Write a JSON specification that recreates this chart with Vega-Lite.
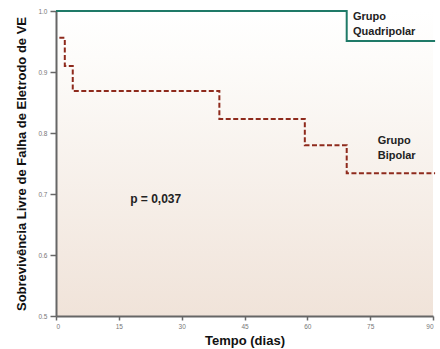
{
  "$schema": "https://vega.github.io/schema/vega-lite/v6.json",
  "width": 377,
  "height": 305,
  "autosize": {"type": "none"},
  "padding": {"left": 56, "top": 11, "right": 7, "bottom": 33},
  "background": "white",
  "config": {
    "view": {"stroke": null, "fill": {"gradient": "linear", "x1": 0, "y1": 0, "x2": 0, "y2": 1, "stops": [{"offset": 0, "color": "#ffffff"}, {"offset": 0.15, "color": "#fdfcfa"}, {"offset": 1, "color": "#f0e3d9"}]}},
    "font": "Liberation Sans",
    "axis": {"grid": false, "domainColor": "#666666", "domainWidth": 2, "tickColor": "#666666", "tickWidth": 1.5, "labelColor": "#777777", "labelFontSize": 6.5, "titleFontSize": 13, "titleFontWeight": "bold", "titleColor": "#111111"}
  },
  "datasets": {
    "curves": [
      {"grupo": "Quadripolar", "dias": 0, "s": 1.0},
      {"grupo": "Quadripolar", "dias": 69.4, "s": 0.951},
      {"grupo": "Quadripolar", "dias": 90.5, "s": 0.951},
      {"grupo": "Bipolar", "dias": 0.8, "s": 0.956},
      {"grupo": "Bipolar", "dias": 2.1, "s": 0.91},
      {"grupo": "Bipolar", "dias": 4.0, "s": 0.869},
      {"grupo": "Bipolar", "dias": 39.0, "s": 0.823},
      {"grupo": "Bipolar", "dias": 59.4, "s": 0.78},
      {"grupo": "Bipolar", "dias": 69.4, "s": 0.734},
      {"grupo": "Bipolar", "dias": 90.5, "s": 0.734}
    ],
    "labels": [
      {"dias": 70.9, "s": 0.99, "label": "Grupo", "size": 11},
      {"dias": 70.9, "s": 0.965, "label": "Quadripolar", "size": 11},
      {"dias": 76.8, "s": 0.787, "label": "Grupo", "size": 11},
      {"dias": 76.8, "s": 0.762, "label": "Bipolar", "size": 11},
      {"dias": 17.7, "s": 0.692, "label": "p = 0,037", "size": 12}
    ]
  },
  "layer": [
    {
      "data": {"name": "curves"},
      "transform": [{"filter": "datum.grupo == 'Quadripolar'"}],
      "mark": {"type": "line", "interpolate": "step-after", "color": "#1f7a68", "strokeWidth": 2, "clip": false},
      "encoding": {
        "x": {"field": "dias", "type": "quantitative", "scale": {"domain": [0, 90], "nice": false}, "axis": {"values": [0, 15, 30, 45, 60, 75, 90], "title": "Tempo (dias)", "tickSize": 4, "labelPadding": 3, "titlePadding": 5}},
        "y": {"field": "s", "type": "quantitative", "scale": {"domain": [0.5, 1.0], "nice": false, "zero": false}, "axis": {"values": [0.5, 0.55, 0.6, 0.65, 0.7, 0.75, 0.8, 0.85, 0.9, 0.95, 1.0], "labelExpr": "round(datum.value*20) % 2 == 0 ? format(datum.value, '.1f') : ''", "tickSize": 6, "labelPadding": 3, "title": "Sobrevivência Livre de Falha de Eletrodo de VE", "titlePadding": 9}}
      }
    },
    {
      "data": {"name": "curves"},
      "transform": [{"filter": "datum.grupo == 'Bipolar'"}],
      "mark": {"type": "line", "interpolate": "step-after", "color": "#8e2a1c", "strokeWidth": 2, "strokeDash": [5, 2.5], "clip": false},
      "encoding": {
        "x": {"field": "dias", "type": "quantitative"},
        "y": {"field": "s", "type": "quantitative"}
      }
    },
    {
      "data": {"name": "labels"},
      "mark": {"type": "text", "align": "left", "baseline": "middle", "fontWeight": "bold", "color": "#222222"},
      "encoding": {
        "x": {"field": "dias", "type": "quantitative"},
        "y": {"field": "s", "type": "quantitative"},
        "text": {"field": "label"},
        "size": {"field": "size", "type": "quantitative", "scale": null, "legend": null}
      }
    }
  ]
}
